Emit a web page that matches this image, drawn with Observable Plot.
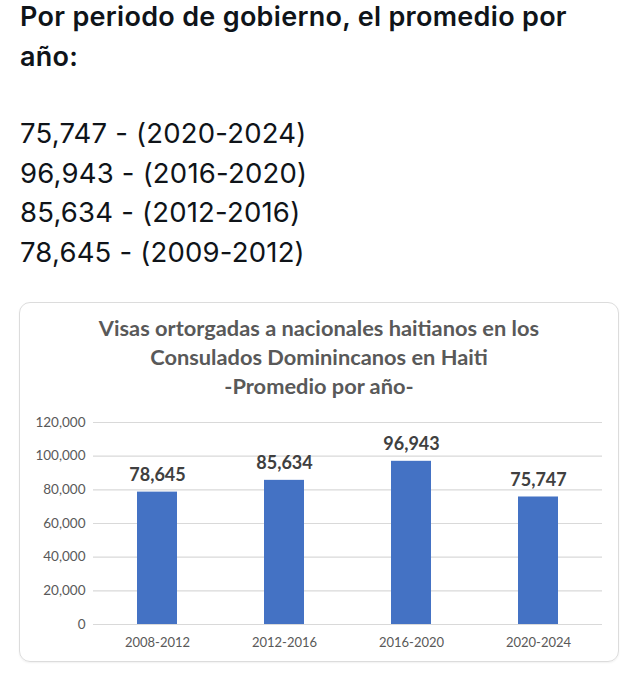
<!DOCTYPE html>
<html>
<head>
<meta charset="utf-8">
<script src="https://cdn.jsdelivr.net/npm/d3@7"></script>
<script src="https://cdn.jsdelivr.net/npm/@observablehq/plot@0.6"></script>
<style>
  html, body { margin: 0; padding: 0; background: #fff; }
  body { width: 628px; height: 676px; position: relative; overflow: hidden; }
  .head { position: absolute; left: 20px; font-family: "Inter", "Noto Sans", sans-serif; color: #0f1419; white-space: nowrap; }
  .h1 { font-size: 27px; font-weight: 600; line-height: 40px; top: -3px; letter-spacing: 0.3px; }
  .lines { font-size: 27.5px; font-weight: 400; line-height: 39.5px; top: 114px; letter-spacing: 0.2px; }
  .card { position: absolute; left: 19px; top: 302px; width: 600px; height: 360px; border: 1px solid #dcdcdc; border-radius: 11px; box-shadow: 0 1px 2px rgba(0,0,0,0.06); box-sizing: border-box; }
  .title { position: absolute; left: 19px; width: 600px; top: 313px; text-align: center; font-family: "Lato", "Open Sans", sans-serif; font-weight: 700; font-size: 21.8px; line-height: 29px; color: #595959; }
  #chart { position: absolute; left: 20px; top: 400px; }
</style>
</head>
<body>
<div class="head h1" id="heading"></div>
<div class="head lines" id="lines"></div>
<div class="card"></div>
<div class="title" id="title"></div>
<div id="chart"></div>
<script>
// Header text
const headingLines = ["Por periodo de gobierno, el promedio por", "año:"];
const summaryValues = [75747, 96943, 85634, 78645];
const summaryPeriods = ["2020-2024", "2016-2020", "2012-2016", "2009-2012"];

// Chart title
const titleLines = ["Visas ortorgadas a nacionales haitianos en los", "Consulados Dominincanos en Haiti", "-Promedio por año-"];

// Chart data
const periods = ["2008-2012", "2012-2016", "2016-2020", "2020-2024"];
const values = [78645, 85634, 96943, 75747];
const yTicks = [0, 20000, 40000, 60000, 80000, 100000, 120000];

const fmt = d3.format(",");

document.getElementById("heading").innerHTML = headingLines.join("<br>");
document.getElementById("lines").innerHTML = summaryValues.map((v, i) => `${fmt(v)} - (${summaryPeriods[i]})`).join("<br>");
document.getElementById("title").innerHTML = titleLines.join("<br>");

const data = periods.map((p, i) => ({period: p, value: values[i]}));

const chart = Plot.plot({
  width: 600,
  height: 260,
  marginTop: 22,
  marginBottom: 36,
  marginLeft: 73,
  marginRight: 18,
  style: {fontFamily: "Lato, 'Open Sans', sans-serif", background: "transparent", color: "#595959"},
  x: {domain: periods, paddingInner: 0.685, paddingOuter: 0.3425, label: null},
  y: {domain: [0, 120000], ticks: yTicks, label: null},
  marks: [
    Plot.gridY(yTicks, {stroke: "#d9d9d9", strokeOpacity: 1, strokeWidth: 1.2}),
    Plot.axisY(yTicks, {tickSize: 0, tickPadding: 8, fontSize: 13.5, tickFormat: fmt, fill: "#595959"}),
    Plot.axisX({tickSize: 0, tickPadding: 13, fontSize: 13, fill: "#595959"}),
    Plot.barY(data, {x: "period", y: "value", fill: "#4472c4"}),
    Plot.text(data, {x: "period", y: "value", text: d => fmt(d.value), lineAnchor: "bottom", dy: -11, fontSize: 18, fontWeight: "bold", fill: "#404040"})
  ]
});
document.getElementById("chart").appendChild(chart);
</script>
</body>
</html>
